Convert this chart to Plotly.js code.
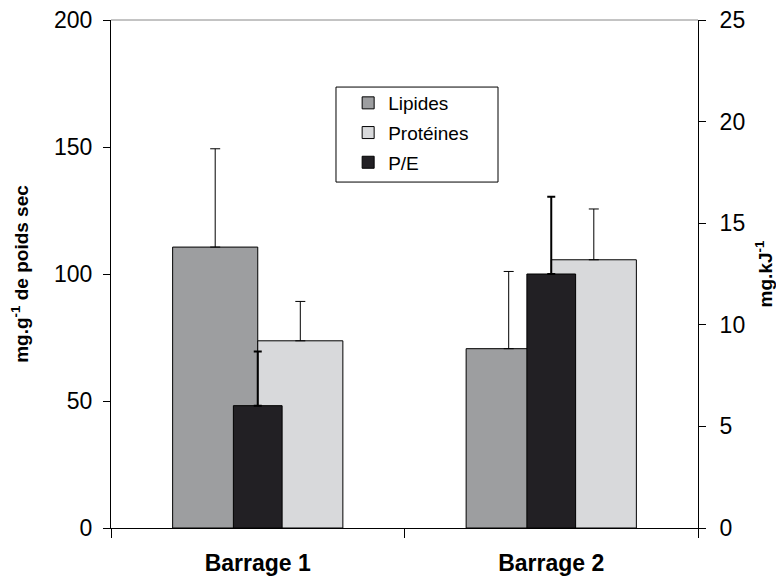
<!DOCTYPE html>
<html>
<head>
<meta charset="utf-8">
<script src="https://cdn.plot.ly/plotly-3.0.1.min.js"></script>
<style>html,body{margin:0;padding:0;background:#fff;}#chart{width:776px;height:578px;}</style>
</head>
<body>
<div id="chart"></div>
<script>
const categories = ['Barrage 1', 'Barrage 2'];
const lipides = [110.6, 70.6];
const lipidesErr = [38.7, 30.4];
const proteines = [73.7, 105.6];
const proteinesErr = [15.5, 20.0];
const pe = [6.02, 12.5];
const peErr = [2.66, 3.8];

const FONT = 'Liberation Sans, Arial, Helvetica, sans-serif';

const traces = [
  {
    type: 'bar', name: 'Lipides', x: categories, y: lipides,
    xaxis: 'x', yaxis: 'y', offset: -0.29, width: 0.29,
    marker: {color: '#9d9ea0', line: {color: '#000', width: 1}},
    error_y: {type: 'data', array: lipidesErr, arrayminus: [0, 0], symmetric: false, color: '#000', thickness: 1, width: 5},
    legendgroup: 'a'
  },
  {
    type: 'bar', name: 'Protéines', x: categories, y: proteines,
    xaxis: 'x', yaxis: 'y', offset: 0, width: 0.29,
    marker: {color: '#d8d9db', line: {color: '#000', width: 1}},
    error_y: {type: 'data', array: proteinesErr, arrayminus: [0, 0], symmetric: false, color: '#000', thickness: 1, width: 5},
    legendgroup: 'b'
  },
  {
    type: 'bar', name: 'P/E', x: categories, y: pe,
    xaxis: 'x', yaxis: 'y2', offset: -0.083, width: 0.166,
    marker: {color: '#222024', line: {color: '#000', width: 1}},
    error_y: {type: 'data', array: peErr, arrayminus: [0, 0], symmetric: false, color: '#000', thickness: 2, width: 4},
    legendgroup: 'c'
  }
];

const layout = {
  width: 776, height: 578,
  margin: {l: 111, r: 78, t: 20, b: 50},
  paper_bgcolor: '#fff', plot_bgcolor: '#fff',
  font: {family: FONT, color: '#000'},
  barmode: 'overlay',
  showlegend: true,
  legend: {
    x: 0.404, y: 0.874, xanchor: 'left', yanchor: 'top',
    borderwidth: 0, bgcolor: 'rgba(0,0,0,0)',
    font: {size: 19, family: FONT},
    itemwidth: 30,
    traceorder: 'grouped', tracegroupgap: 2
  },
  xaxis: {
    type: 'category', range: [-0.5, 1.5],
    tickson: 'boundaries', ticks: 'outside', ticklen: 9, tickcolor: '#000', tickwidth: 1,
    showline: true, linecolor: '#000', linewidth: 1, showgrid: false, zeroline: false,
    tickfont: {size: 23, family: FONT, weight: 'bold'},
    ticklabelstandoff: 14
  },
  yaxis: {
    range: [0, 200], dtick: 50, ticks: 'outside', ticklen: 7, tickcolor: '#000',
    showline: true, linecolor: '#000', linewidth: 1, showgrid: false, zeroline: false,
    tickfont: {size: 23, family: FONT},
    ticklabelstandoff: 6,
    title: {text: 'mg.g<sup>-1</sup> de poids sec', font: {size: 19, family: FONT, weight: 'bold'}, standoff: 20}
  },
  yaxis2: {
    range: [0, 25], dtick: 5, overlaying: 'y', side: 'right',
    ticks: 'outside', ticklen: 7, tickcolor: '#000',
    showline: true, linecolor: '#000', linewidth: 1, showgrid: false, zeroline: false,
    tickfont: {size: 23, family: FONT},
    ticklabelstandoff: 9,
    title: {text: 'mg.kJ<sup>-1</sup>', font: {size: 19, family: FONT, weight: 'bold'}, standoff: 17}
  },
  shapes: [
    {type: 'line', xref: 'paper', yref: 'paper', x0: 0, x1: 1, y0: 1, y1: 1, line: {color: '#888', width: 1}},
    {type: 'rect', xref: 'paper', yref: 'paper', x0: 0.3833, x1: 0.6593, y0: 0.681, y1: 0.868, line: {color: '#000', width: 1}, fillcolor: 'rgba(0,0,0,0)'}
  ]
};

Plotly.newPlot('chart', traces, layout, {displayModeBar: false, staticPlot: true});
</script>
</body>
</html>
